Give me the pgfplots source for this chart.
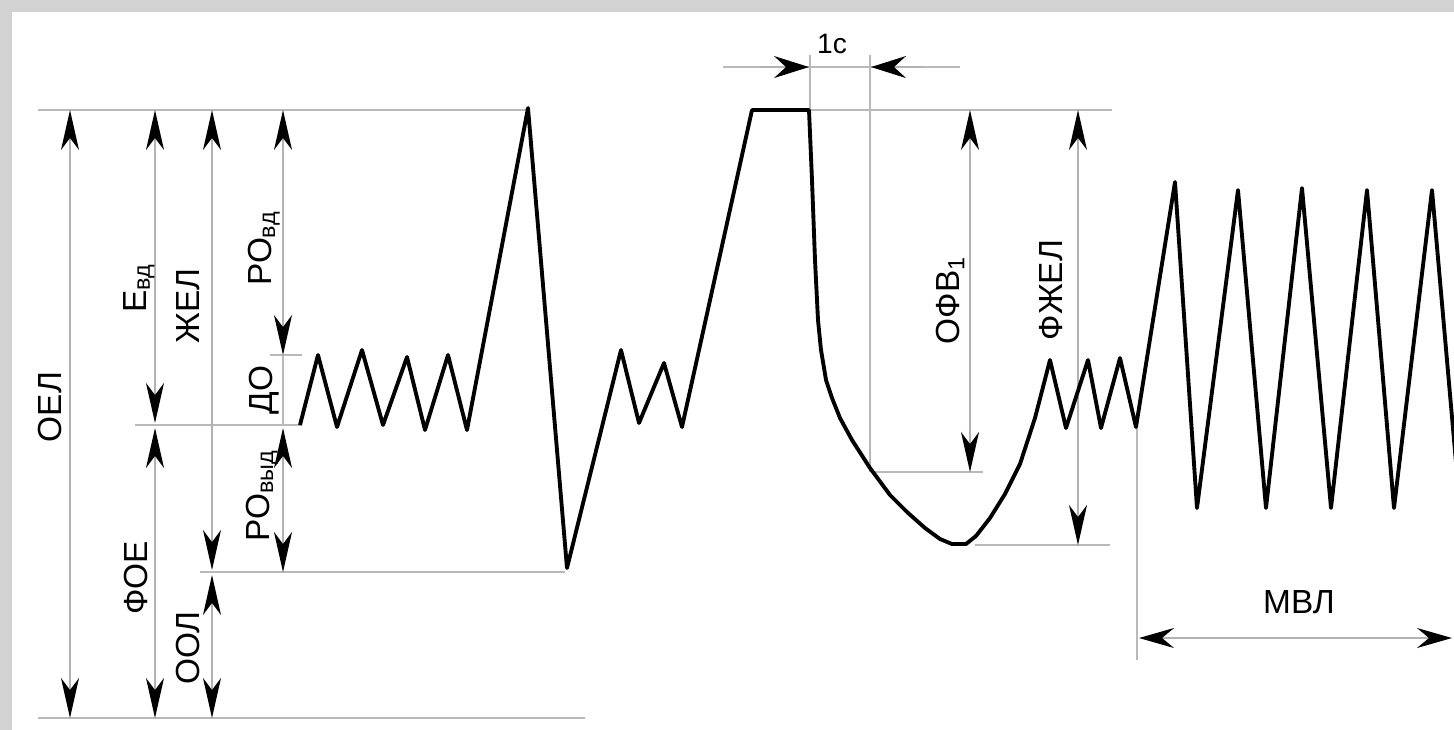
\documentclass[border=0pt]{standalone}
\usepackage{pgfplots}
\pgfplotsset{compat=1.18}
\usepackage{fontspec}
\setmainfont{Liberation Sans}
\usetikzlibrary{arrows.meta}
\begin{document}
\begin{tikzpicture}
\begin{axis}[
  width=14.54cm, height=7.30cm, scale only axis,
  xmin=0, xmax=1454, ymin=0, ymax=730, y dir=reverse,
  axis lines=none, no markers,
  every axis plot/.append style={line join=round},
  guide/.style={gray!55, line width=0.5pt},
  dbl/.style={gray!60, line width=0.5pt, {Stealth[length=4mm,width=1.8mm,inset=1.2mm,color=black]}-{Stealth[length=4mm,width=1.8mm,inset=1.2mm,color=black]}},
  hdbl/.style={gray!60, line width=0.5pt, {Stealth[length=3.5mm,width=2mm,inset=1.2mm,color=black]}-{Stealth[length=3.5mm,width=2mm,inset=1.2mm,color=black]}},
  harr/.style={gray!60, line width=0.5pt, -{Stealth[length=3.5mm,width=2.2mm,inset=1.2mm,color=black]}},
  font=\fontsize{9.5}{11}\selectfont,
]
% frame
\addplot[fill=gray!35, draw=none] coordinates {(0,0)(1454,0)(1454,730)(0,730)} -- cycle;
\addplot[fill=white, draw=none] coordinates {(12,12)(1454,12)(1454,730)(12,730)} -- cycle;
% horizontal guide lines
\addplot[guide] coordinates {(38,110)(530,110)};
\addplot[guide] coordinates {(808,110)(1112,110)};
\addplot[guide] coordinates {(270,355)(302,355)};
\addplot[guide] coordinates {(135,425)(302,425)};
\addplot[guide] coordinates {(200,572)(565,572)};
\addplot[guide] coordinates {(38,718)(585,718)};
\addplot[guide] coordinates {(872,472)(983,472)};
\addplot[guide] coordinates {(975,545)(1110,545)};
\addplot[guide] coordinates {(723,67)(960,67)};
% vertical guide lines
\addplot[guide] coordinates {(810,55)(810,110)};
\addplot[guide] coordinates {(870,55)(870,472)};
\addplot[guide] coordinates {(1137,420)(1137,660)};
\addplot[guide] coordinates {(283,355)(283,425)};
% dimension arrows
\addplot[dbl] coordinates {(70,110)(70,718)};
\addplot[dbl] coordinates {(155,110)(155,423)};
\addplot[dbl] coordinates {(155,428)(155,718)};
\addplot[dbl] coordinates {(212,110)(212,570)};
\addplot[dbl] coordinates {(212,575)(212,718)};
\addplot[dbl] coordinates {(283,110)(283,355)};
\addplot[dbl] coordinates {(283,428)(283,572)};
\addplot[dbl] coordinates {(970,110)(970,472)};
\addplot[dbl] coordinates {(1078,110)(1078,545)};
\addplot[hdbl] coordinates {(1139,638)(1452,638)};
\addplot[harr] coordinates {(760,67)(809,67)};
\addplot[harr] coordinates {(922,67)(871,67)};
% spirogram curve
\addplot[black, line width=1.1pt] coordinates {
(300,425)(318,355)(337,427)(362,350)(383,425)(407,357)(425,430)(448,355)(467,430)
(528,108)(567,568)(621,350)(639,423)(664,363)(682,427)(752,110)(809,110)
(812,180)(815,260)(818,320)(821,350)(826,380)(832,398)(840,418)(852,440)(870,468)
(890,495)(907,512)(925,528)(940,539)(952,544)(966,544)(976,536)(990,518)(1005,494)
(1020,464)(1035,418)(1050,360)(1066,428)(1088,360)(1101,428)(1120,358)(1136,427)
(1175,182)(1197,508)(1238,190)(1266,508)(1302,188)(1331,508)(1367,190)(1394,508)
(1432,190)(1460,508)};
% labels
\node[rotate=90] at (axis cs:50,407) {ОЕЛ};
\node[rotate=90] at (axis cs:139,288) {Е\textsubscript{вд}};
\node[rotate=90] at (axis cs:188,306) {ЖЕЛ};
\node[rotate=90] at (axis cs:264,248) {РО\textsubscript{вд}};
\node[rotate=90] at (axis cs:264,390) {ДО};
\node[rotate=90] at (axis cs:262,495) {РО\textsubscript{выд}};
\node[rotate=90] at (axis cs:136,578) {ФОЕ};
\node[rotate=90] at (axis cs:188,648) {ООЛ};
\node[rotate=90] at (axis cs:950,300) {ОФВ\textsubscript{1}};
\node[rotate=90] at (axis cs:1051,290) {ФЖЕЛ};
\node at (axis cs:1299,602) {МВЛ};
\node[font=\fontsize{8}{9}\selectfont] at (axis cs:832,44) {1с};
\end{axis}
\pgfresetboundingbox
\path[use as bounding box] (0,0) rectangle (14.54cm,7.30cm);
\end{tikzpicture}
\end{document}
